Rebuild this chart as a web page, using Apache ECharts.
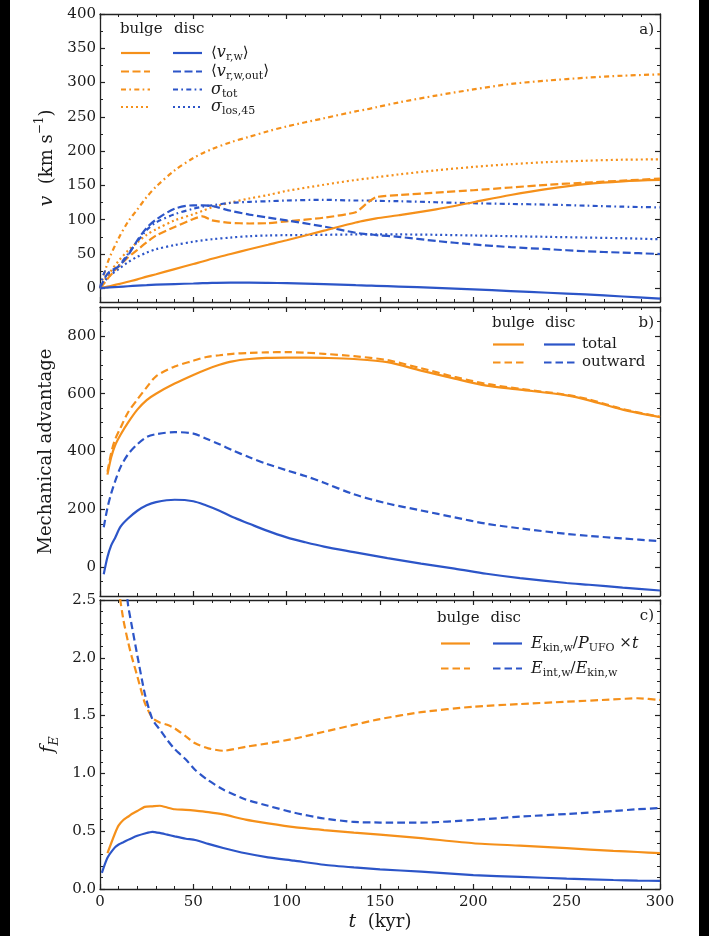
<!DOCTYPE html>
<html><head><meta charset="utf-8">
<script src="https://cdn.jsdelivr.net/npm/echarts@6/dist/echarts.min.js"></script>
<style>
html,body{margin:0;padding:0;background:#000;}
#chart{position:absolute;left:10px;top:0;width:689px;height:936px;background:#fff;}
</style></head><body><div id="chart"></div>
<script>
// ---------- panel a: velocities (km/s) ----------
const tA = [0,3,5,10,15,20,25,30,40,50,55,60,70,80,90,100,120,137,143,148,160,180,200,220,240,260,280,300];
const aBulgeVr    = [0,1.8,3,6,9.5,13,17,20.5,28,35.5,39,43,50,57,63.5,70,84,96,99.5,102,106.5,115,125.5,136,145,152,156,158];
const aDiscVr     = [0,0.8,1.2,2,3,3.8,4.5,5.2,6.2,7,7.5,7.8,8.2,8.2,7.9,7.4,6,4.5,4,3.6,2.5,0.6,-1.5,-4,-6.5,-9,-12,-15];
const aBulgeVrOut = [0,10,17,32,45,56,67,77,89.5,101,105,99,95.5,94.5,95,97.5,103,111,124,133,136,139.5,143,147,151,154,157,160];
const aDiscVrOut  = [0,17,24,32,48,70,88,100,116,121,121,120,113,107.5,103,99,90,81,79,77.5,75,69,64,60,57,54,52,50];
const aBulgeSig   = [0,28,44,73,97,115,133,148,172,190,197,203,213,221,229,236,248,258,261,264,271,281,290,298,303,307,310,312];
const aDiscSig    = [0,25,22,33,50,68,85,96,108,116,119,121,124.5,126,127,128,129,128,128,127.5,127,125.5,124,123,122,120.5,119,118];
const aBulgeLos   = [0,14,22,40,55,67,78,86,99,108,113,118,125,131,136,142,151,158,160,162,166,172,177,181,184,186,187.5,188];
const aDiscLos    = [0,12,18,28,38,46,52,57,63,68,70,71.5,74,76,77,77.5,78,78.5,78.5,78.5,78.5,78,77,76,75,74,73,71.5];

// ---------- panel b: mechanical advantage ----------
const tB = [2,4,6,8,11,15,20,25,30,40,50,57,64,71,80,89,100,110,120,136,154,172,190,207,225,250,262,280,300];
const bBulgeTot = [null,320,380,420,458,500,545,578,600,635,665,684,700,712,720,724,725,725,724,720,709,680,652,628,614,594,577,545,519];
const bBulgeOut = [null,330,395,440,482,535,580,622,660,694,714,727,733,738,741,743,744,742,738,730,716,688,658,634,617,596,580,547,520];
const bDiscTot  = [-25,35,75,100,140,168,195,214,225,233,228,213,195,173,150,127,103,86,71,52,31,12,-5,-23,-38,-55,-61,-71,-81];
const bDiscOut  = [138,205,255,295,346,390,425,450,460,467,462,444,425,404,380,358,335,315,292,252,220,196,172,150,134,115,108,99,90];

// ---------- panel c: energy fractions ----------
const tC = [1,4,8,10,12.5,15,17,20,24,28,32,36,40,46,51,58,66,78,90,104,120,136,150,172,200,225,250,275,288,300];
const cBulgeKin = [null,0.31,0.48,0.55,0.597,0.625,0.649,0.675,0.71,0.715,0.72,0.705,0.69,0.685,0.678,0.665,0.645,0.6,0.568,0.535,0.51,0.488,0.47,0.44,0.396,0.375,0.353,0.33,0.32,0.31];
const cDiscKin  = [0.14,0.27,0.36,0.385,0.405,0.425,0.44,0.46,0.48,0.495,0.485,0.47,0.455,0.435,0.424,0.39,0.355,0.309,0.274,0.245,0.21,0.187,0.17,0.15,0.12,0.105,0.09,0.078,0.073,0.07];
const cBulgeInt = [null,4.0,2.9,2.6,2.33,2.14,2.01,1.84,1.61,1.48,1.44,1.42,1.39,1.32,1.26,1.217,1.196,1.23,1.26,1.3,1.36,1.42,1.47,1.53,1.577,1.6,1.62,1.64,1.65,1.635];
const cDiscInt  = [null,null,null,3.3,2.85,2.46,2.28,2.02,1.69,1.47,1.38,1.29,1.21,1.12,1.03,0.94,0.86,0.775,0.72,0.66,0.61,0.58,0.575,0.574,0.597,0.626,0.649,0.675,0.69,0.70];

// ---------- tick values ----------
const xMajor = 50;
const aTicks = [0,50,100,150,200,250,300,350,400];
const aMinor = [25,75,125,175,225,275,325,375];
const bTicks = [0,200,400,600,800];
const bMinor = [-50,50,100,150,250,300,350,450,500,550,650,700,750,850];
const cTicks = [0,0.5,1.0,1.5,2.0,2.5];
const cMinor = [0.1,0.2,0.3,0.4,0.6,0.7,0.8,0.9,1.1,1.2,1.3,1.4,1.6,1.7,1.8,1.9,2.1,2.2,2.3,2.4];

// ---------- styling ----------
const ORANGE = '#f5901a', BLUE = '#2c55c8', AX = '#222', TXT = '#1a1a1a';
const SERIF = '"DejaVu Serif", "DejaVu Sans", serif';
const DASH = [7.5,4], DASHDOT = [5,3.3,1.7,3.3], DOT = [2,3];
const LW = 2.2;

const zip = (t, v) => t.map((x, i) => [x, v[i]]);

function xPair(gi, labels, name, nameRich) {
  const mk = (pos) => ({
    type:'value', gridIndex:gi, position:pos, min:0, max:300, interval:xMajor,
    axisLine:{show:true, onZero:false, lineStyle:{color:AX, width:1.3}},
    axisTick:{show:true, inside:true, length:5, lineStyle:{color:AX, width:1.2}},
    minorTick:{show:true, splitNumber:5, length:3, lineStyle:{color:AX, width:1}},
    splitLine:{show:false}, minorSplitLine:{show:false},
    axisLabel:{show: pos==='bottom' && labels, margin:6, fontFamily:SERIF, fontSize:15, color:TXT}
  });
  const b = mk('bottom');
  if (name) {
    b.name = name; b.nameLocation = 'middle'; b.nameGap = 20;
    b.nameTextStyle = {fontFamily:SERIF, fontSize:18, color:TXT, rich:nameRich};
  }
  return [b, mk('top')];
}

function yQuad(gi, min, max, majors, minors, fmt, name, nameGap, nameRich) {
  const mk = (pos, isMajor) => ({
    type:'value', gridIndex:gi, position:pos, min:min, max:max,
    axisLine:{show:isMajor, onZero:false, lineStyle:{color:AX, width:1.3}},
    axisTick:{show:true, inside:true, length:isMajor?5:3, customValues: isMajor?majors:minors,
              lineStyle:{color:AX, width:isMajor?1.2:1}},
    splitLine:{show:false},
    axisLabel:{show: pos==='left' && isMajor, customValues: majors, margin:4,
               fontFamily:SERIF, fontSize:15, color:TXT, formatter: fmt}
  });
  const L = mk('left', true);
  L.name = name; L.nameLocation = 'middle'; L.nameRotate = 90; L.nameGap = nameGap;
  L.nameTextStyle = {fontFamily:SERIF, fontSize:18, color:TXT, rich:nameRich};
  return [L, mk('left', false), mk('right', true), mk('right', false)];
}

const NAME_RICH = {
  i:{fontFamily:SERIF, fontStyle:'italic', fontSize:19, lineHeight:26, color:TXT},
  n:{fontFamily:SERIF, fontSize:18, lineHeight:26, color:TXT},
  p:{fontFamily:SERIF, fontSize:12, lineHeight:12, verticalAlign:'top', color:TXT},
  e:{fontFamily:SERIF, fontStyle:'italic', fontSize:13, lineHeight:9, verticalAlign:'bottom', color:TXT}
};

function ser(gi, t, v, color, dash, sm) {
  return {type:'line', xAxisIndex:2*gi, yAxisIndex:4*gi, data:zip(t, v),
    symbol:'none', showSymbol:false, smooth:sm, clip:true,
    lineStyle:{color:color, width:LW, type: dash || 'solid'},
    emphasis:{disabled:true}};
}

// ---------- legend graphics ----------
const G_RICH = {
  n:{fontFamily:SERIF, fontSize:15, lineHeight:20, fill:TXT},
  i:{fontFamily:SERIF, fontStyle:'italic', fontSize:16, lineHeight:20, fill:TXT},
  s:{fontFamily:SERIF, fontSize:11, lineHeight:8, verticalAlign:'bottom', fill:TXT}
};
function txt(x, y, text, align) {
  return {type:'text', x:x, y:y, silent:true, style:{text:text, rich:G_RICH, fill:TXT,
    font:'15px ' + SERIF, textAlign:align||'left', align:align||'left',
    textVerticalAlign:'middle', verticalAlign:'middle'}};
}
function seg(x1, x2, y, color, dash) {
  return {type:'line', silent:true, shape:{x1:x1, y1:y, x2:x2, y2:y},
    style:{stroke:color, lineWidth:LW, lineDash: dash || null}};
}
function legend(hx, dx, hy, ox, bx, len, lx, rows) {
  const els = [txt(hx, hy, '{n|bulge}'), txt(dx, hy, '{n|disc}')];
  rows.forEach(r => {
    els.push(seg(ox, ox+len, r.y, ORANGE, r.dash));
    els.push(seg(bx, bx+len, r.y, BLUE, r.dash));
    els.push(txt(lx, r.y, r.label));
  });
  return els;
}

const DASH_A = [8,3.5];
const graphics = [].concat(
  legend(110, 164, 29, 111, 163, 29, 201, [
    {y:53, dash:null, label:'{n|⟨}{i|v}{s|r,w}{n|⟩}'},
    {y:71.5, dash:DASH_A, label:'{n|⟨}{i|v}{s|r,w,out}{n|⟩}'},
    {y:89.5, dash:DASHDOT, label:'{i|σ}{s|tot}'},
    {y:107, dash:DOT, label:'{i|σ}{s|los,45}'}
  ]),
  legend(482, 535, 323, 483, 534, 31, 572, [
    {y:344.5, dash:null, label:'{n|total}'},
    {y:362.5, dash:DASH, label:'{n|outward}'}
  ]),
  legend(427, 480.5, 618, 431, 483, 29, 521, [
    {y:643.5, dash:null, label:'{i|E}{s|kin,w}{n|/}{i|P}{s|UFO}{n| ×}{i|t}'},
    {y:668.5, dash:DASH, label:'{i|E}{s|int,w}{n|/}{i|E}{s|kin,w}'}
  ]),
  [txt(644, 30, '{n|a)}', 'right'), txt(644, 323, '{n|b)}', 'right'), txt(644, 616, '{n|c)}', 'right')]
);

const option = {
  animation:false,
  backgroundColor:'#fff',
  grid:[
    {left:90, right:39, top:14, height:288},
    {left:90, right:39, top:307, height:289},
    {left:90, right:39, top:600, height:289}
  ],
  xAxis: [].concat(
    xPair(0, false), xPair(1, false),
    xPair(2, true, '{i|t}{n|  (kyr)}', NAME_RICH)
  ),
  yAxis: [].concat(
    yQuad(0, -20, 400, aTicks, aMinor, v => String(v), '{i|v}{n|  (km s}{p|−1}{n|)}', 38, NAME_RICH),
    yQuad(1, -100, 900, bTicks, bMinor, v => String(v), '{n|Mechanical advantage}', 41, NAME_RICH),
    yQuad(2, 0, 2.5, cTicks, cMinor, v => Number(v).toFixed(1), '{i|f}{e|E}', 32, NAME_RICH)
  ),
  series: [
    ser(0, tA, aBulgeLos, ORANGE, DOT, 0.3),
    ser(0, tA, aDiscLos, BLUE, DOT, 0.3),
    ser(0, tA, aBulgeSig, ORANGE, DASHDOT, 0.3),
    ser(0, tA, aDiscSig, BLUE, DASHDOT, 0.3),
    ser(0, tA, aBulgeVrOut, ORANGE, DASH_A, 0.2),
    ser(0, tA, aDiscVrOut, BLUE, DASH_A, 0.3),
    ser(0, tA, aBulgeVr, ORANGE, null, 0.3),
    ser(0, tA, aDiscVr, BLUE, null, 0.3),
    ser(1, tB, bBulgeOut, ORANGE, DASH, 0.3),
    ser(1, tB, bBulgeTot, ORANGE, null, 0.3),
    ser(1, tB, bDiscOut, BLUE, DASH, 0.3),
    ser(1, tB, bDiscTot, BLUE, null, 0.3),
    ser(2, tC, cBulgeInt, ORANGE, DASH, 0.2),
    ser(2, tC, cDiscInt, BLUE, DASH, 0.2),
    ser(2, tC, cBulgeKin, ORANGE, null, 0.2),
    ser(2, tC, cDiscKin, BLUE, null, 0.2)
  ],
  graphic: {elements: graphics}
};
const chart = echarts.init(document.getElementById('chart'), null, {renderer:'canvas'});
chart.setOption(option);
</script></body></html>
